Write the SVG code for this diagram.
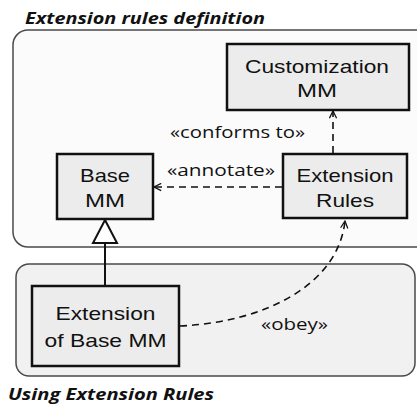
<svg xmlns="http://www.w3.org/2000/svg" width="417" height="405" viewBox="0 0 417 405">
<style>
.title{font-family:"Open Sans","Liberation Sans",sans-serif;font-weight:bold;font-style:italic;font-size:16px;fill:#111}
.cont{stroke:#4a4a4a;stroke-width:1.5}
.box{fill:#ececec;stroke:#111;stroke-width:2.5}
.lbl{font-family:"Liberation Sans",Arial,sans-serif;font-size:19px;fill:#111;text-anchor:middle}
.st{font-family:"Open Sans","Liberation Sans",sans-serif;font-size:16px;fill:#111;text-anchor:middle}
.dash{fill:none;stroke:#111;stroke-width:1.6;stroke-dasharray:7 5}
</style>
<defs>
<marker id="open" viewBox="0 0 10 10" refX="9" refY="5" markerWidth="9" markerHeight="9" markerUnits="userSpaceOnUse" orient="auto">
<path d="M1,1 L9,5 L1,9" fill="none" stroke="#111" stroke-width="1.4"/>
</marker>
</defs>
<rect width="417" height="405" fill="#ffffff"/>
<g id="container-definition">
<rect class="cont" x="13" y="30" width="420" height="217" rx="15" fill="#fbfbfb"/>
<text class="title" x="25" y="24" textLength="240" lengthAdjust="spacingAndGlyphs">Extension rules definition</text>
</g>
<g id="container-using">
<rect class="cont" x="16" y="264" width="399" height="112" rx="13" fill="#f1f1f1"/>
<text class="title" x="8" y="400" textLength="206" lengthAdjust="spacingAndGlyphs">Using Extension Rules</text>
</g>
<g id="customization-mm">
<rect class="box" x="227" y="44" width="182" height="66"/>
<text class="lbl" x="317" y="72.5" textLength="144" lengthAdjust="spacingAndGlyphs">Customization</text>
<text class="lbl" x="317" y="97" textLength="40" lengthAdjust="spacingAndGlyphs">MM</text>
</g>
<g id="base-mm">
<rect class="box" x="57" y="154" width="96" height="65"/>
<text class="lbl" x="105" y="182" textLength="50" lengthAdjust="spacingAndGlyphs">Base</text>
<text class="lbl" x="105" y="207" textLength="40" lengthAdjust="spacingAndGlyphs">MM</text>
</g>
<g id="extension-rules">
<rect class="box" x="283" y="154" width="124" height="64"/>
<text class="lbl" x="345" y="182" textLength="97" lengthAdjust="spacingAndGlyphs">Extension</text>
<text class="lbl" x="345" y="207" textLength="58" lengthAdjust="spacingAndGlyphs">Rules</text>
</g>
<g id="extension-of-base-mm">
<rect class="box" x="32" y="286" width="147" height="80"/>
<text class="lbl" x="105.5" y="320" textLength="100" lengthAdjust="spacingAndGlyphs">Extension</text>
<text class="lbl" x="105.5" y="347" textLength="122" lengthAdjust="spacingAndGlyphs">of Base MM</text>
</g>
<g id="connectors">
<path class="dash" d="M333,153 L333,111" marker-end="url(#open)"/>
<text class="st" x="237.5" y="138" textLength="135" lengthAdjust="spacingAndGlyphs">«conforms to»</text>
<path class="dash" d="M282,187 L154,187" marker-end="url(#open)"/>
<text class="st" x="221" y="176" textLength="108" lengthAdjust="spacingAndGlyphs">«annotate»</text>
<path d="M105,286 L105,243" stroke="#111" stroke-width="2" fill="none"/>
<polygon points="105,220 93,243 117,243" fill="#fff" stroke="#111" stroke-width="2"/>
<path class="dash" d="M180,326 C265,322 338,285 345,221" marker-end="url(#open)"/>
<text class="st" x="294.5" y="330" textLength="67" lengthAdjust="spacingAndGlyphs">«obey»</text>
</g>
</svg>
